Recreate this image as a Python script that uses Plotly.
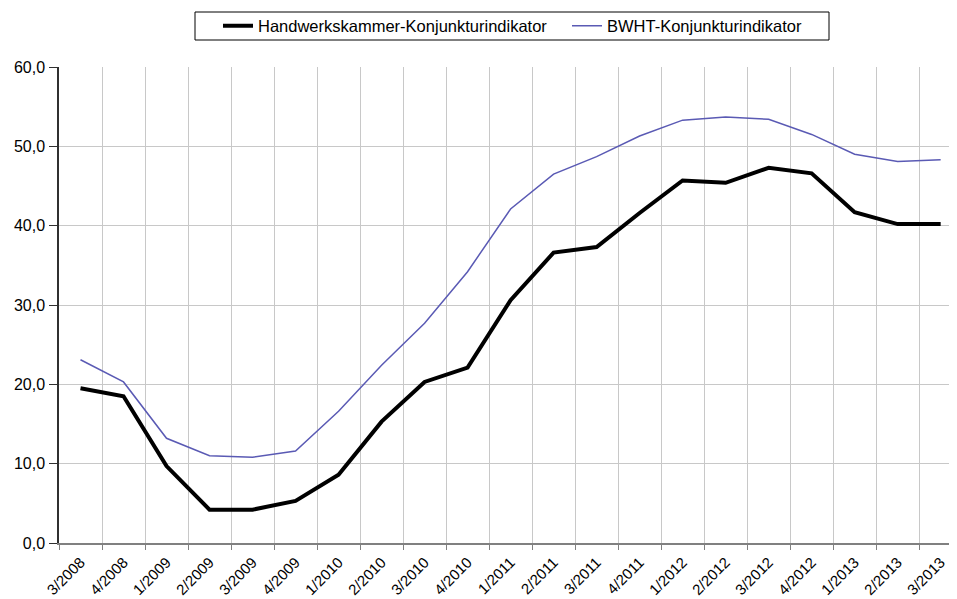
import plotly.graph_objects as go

categories = ["3/2008", "4/2008", "1/2009", "2/2009", "3/2009", "4/2009",
              "1/2010", "2/2010", "3/2010", "4/2010", "1/2011", "2/2011",
              "3/2011", "4/2011", "1/2012", "2/2012", "3/2012", "4/2012",
              "1/2013", "2/2013", "3/2013"]

handwerk = [19.5, 18.5, 9.7, 4.2, 4.2, 5.3, 8.6, 15.3, 20.3, 22.1, 30.6, 36.6,
            37.3, 41.6, 45.7, 45.4, 47.3, 46.6, 41.7, 40.2, 40.2]

bwht = [23.1, 20.3, 13.2, 11.0, 10.8, 11.6, 16.6, 22.4, 27.7, 34.2, 42.1, 46.5,
        48.7, 51.3, 53.3, 53.7, 53.4, 51.5, 49.0, 48.1, 48.3]

# page body has an 8px margin; figure is sized/offset to compensate
W, H = 949, 591
ML, MT, MB = 51, 59, 56
PW, PH = W - ML, H - MT - MB


def px_to_paper_x(px):
    return (px - 8 - ML) / PW


def px_to_paper_y(py):
    return 1 + (MT - (py - 8)) / PH


fig = go.Figure()
fig.add_trace(go.Scatter(x=categories, y=handwerk, mode="lines",
                         name="Handwerkskammer-Konjunkturindikator",
                         line=dict(color="#000000", width=4)))
fig.add_trace(go.Scatter(x=categories, y=bwht, mode="lines",
                         name="BWHT-Konjunkturindikator",
                         line=dict(color="#5a5ab4", width=1.5)))

# legend frame
fig.add_shape(type="rect", xref="paper", yref="paper",
              x0=px_to_paper_x(195), x1=px_to_paper_x(829),
              y0=px_to_paper_y(40), y1=px_to_paper_y(12),
              line=dict(color="#000000", width=1), fillcolor="rgba(0,0,0,0)")

fig.update_layout(
    width=W, height=H,
    margin=dict(l=ML, r=0, t=MT, b=MB),
    paper_bgcolor="white", plot_bgcolor="white",
    separators=",.",
    font=dict(family="Liberation Sans, Arial, sans-serif", color="#000000"),
    showlegend=True,
    legend=dict(orientation="h", xref="container", yref="container",
                x=(218 - 8) / W, xanchor="left", y=1 - 0.5 / H, yanchor="top",
                borderwidth=0, bgcolor="rgba(0,0,0,0)",
                font=dict(size=16.5), itemwidth=30, traceorder="normal",
                entrywidth=304),
    xaxis=dict(type="category", range=[-0.5, 20.38], tickson="boundaries",
               automargin=False,
               showgrid=True, gridcolor="#c8c8c8", gridwidth=1,
               showline=True, linecolor="#808080", linewidth=1.5,
               ticks="outside", ticklen=5, tickcolor="#808080",
               ticklabelstandoff=3,
               tickangle=-45, tickfont=dict(size=15)),
    yaxis=dict(range=[0, 60], dtick=10, tickformat=".1f", automargin=False,
               showgrid=True, gridcolor="#c8c8c8", gridwidth=1,
               showline=True, linecolor="#303030", linewidth=1.5,
               ticks="outside", ticklen=8, tickcolor="#303030",
               ticklabelstandoff=1,
               tickfont=dict(size=16), zeroline=False),
)

fig.write_html("out.html")
